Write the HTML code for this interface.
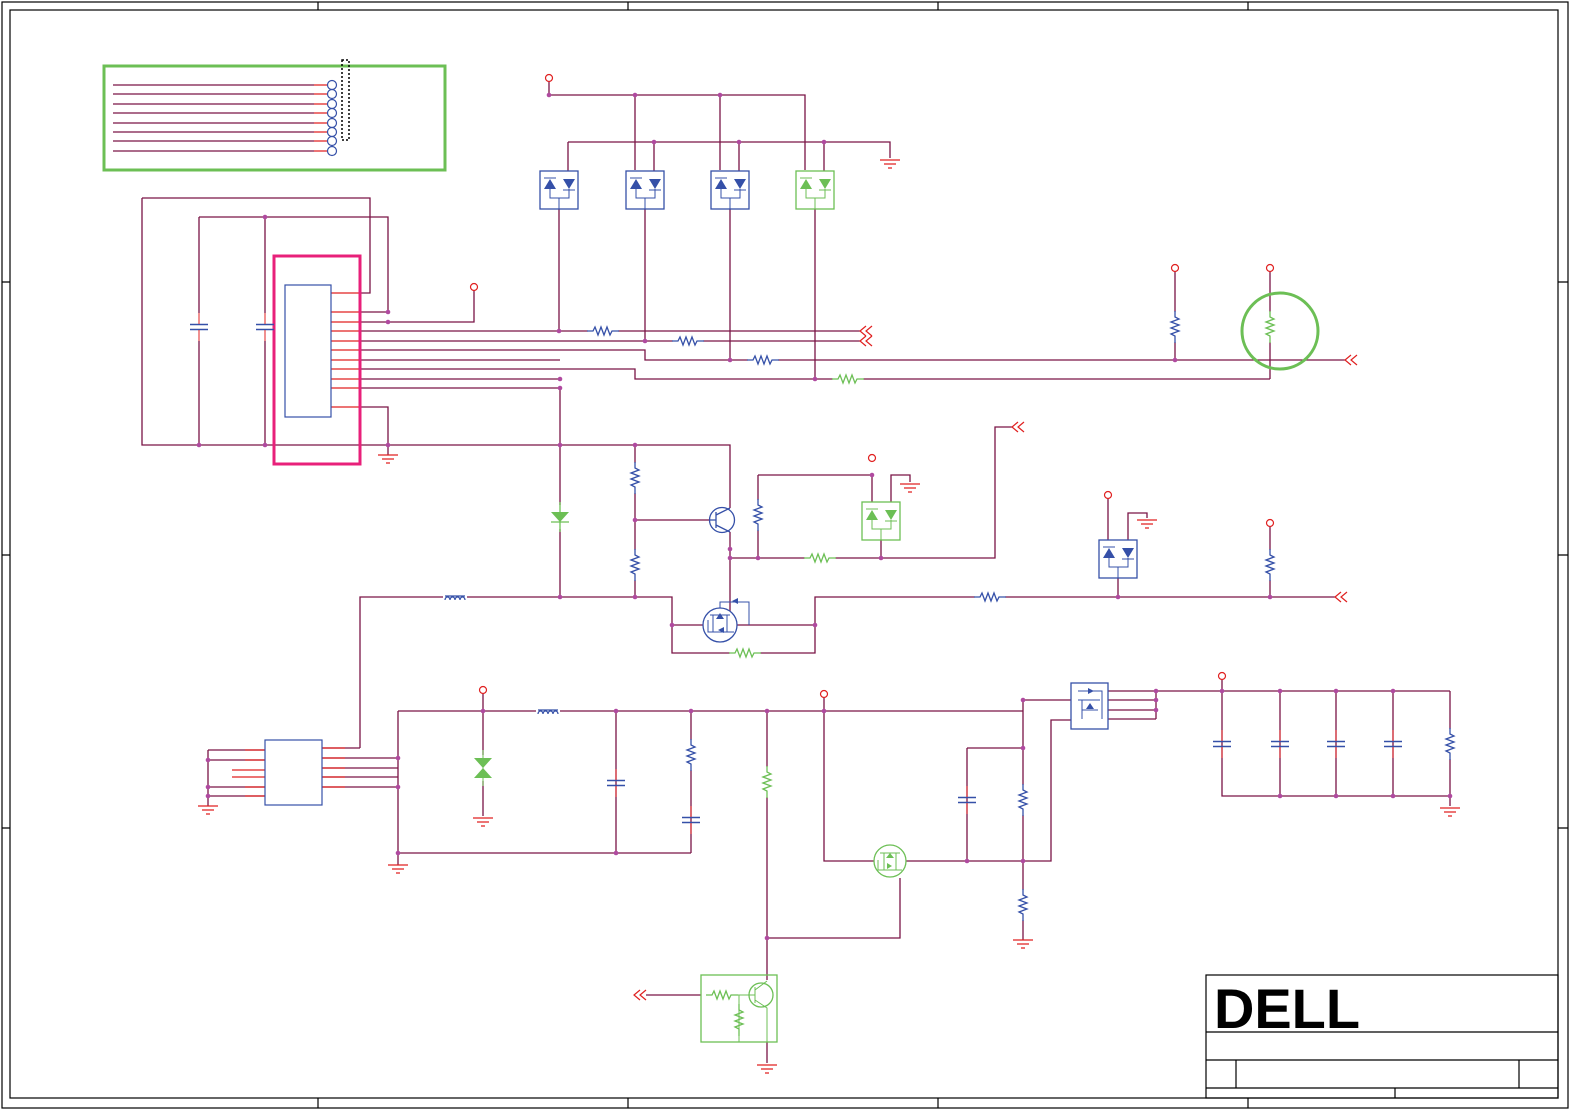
<!DOCTYPE html>
<html><head><meta charset="utf-8"><style>html,body{margin:0;padding:0;background:#fff}svg{display:block}</style></head><body>
<svg width="1572" height="1112" viewBox="0 0 1572 1112" xmlns="http://www.w3.org/2000/svg">
<defs>
<g id="rv" fill="none"><path d="M0,-16V-10l4,2-8,3 8,3-8,3 8,3-8,3 4,2V16" stroke="#3550a8" stroke-width="1.3"/></g>
<g id="rvg" fill="none"><path d="M0,-16V-10l4,2-8,3 8,3-8,3 8,3-8,3 4,2V16" stroke="#6cbf55" stroke-width="1.3"/></g>
<g id="rh" fill="none"><path d="M-16,0H-10l2,-4 3,8 3,-8 3,8 3,-8 3,8 2,-4H16" stroke="#3550a8" stroke-width="1.3"/></g>
<g id="rhg" fill="none"><path d="M-16,0H-10l2,-4 3,8 3,-8 3,8 3,-8 3,8 2,-4H16" stroke="#6cbf55" stroke-width="1.3"/></g>
<g id="cv" stroke="#3550a8" stroke-width="1.5"><path d="M-9,-2.5H9M-9,2.5H9"/><path d="M0,-14V-3M0,3V14" stroke="#e02020" stroke-width="1"/></g>
<g id="gnd" stroke="#e02020" stroke-width="1.2"><path d="M-10,0H10M-6,4H6M-2,8H2"/></g>
<circle id="pc" r="3.5" fill="#fff" stroke="#e02020" stroke-width="1.2"/>
<circle id="dt" r="2.3" fill="#b04aa0"/>
<g id="db"><rect x="0" y="0" width="38" height="38" fill="none" stroke="#3550a8" stroke-width="1.3"/>
<path d="M4,18l6,-10 6,10z M23,8h12l-6,10z" fill="#3550a8"/><path d="M4,7h12M23,19h12M10,18v9h19v-9M19,27v11" stroke="#3550a8" fill="none"/></g>
<g id="dbg"><rect x="0" y="0" width="38" height="38" fill="none" stroke="#6cbf55" stroke-width="1.3"/>
<path d="M4,18l6,-10 6,10z M23,8h12l-6,10z" fill="#6cbf55"/><path d="M4,7h12M23,19h12M10,18v9h19v-9M19,27v11" stroke="#6cbf55" fill="none"/></g>
<g id="arr" fill="none" stroke="#e02020" stroke-width="1.2"><path d="M0,-5l-6,5 6,5M6,-5l-6,5 6,5"/></g>
<g id="ind" fill="none" stroke="#3550a8" stroke-width="1.3"><path d="M-10,0a2.5,3 0 0 1 5,0a2.5,3 0 0 1 5,0a2.5,3 0 0 1 5,0a2.5,3 0 0 1 5,0M-10,-4H10"/></g>
</defs>
<g fill="none" stroke="#000" stroke-width="1.2">
<rect x="2" y="2" width="1566" height="1106"/><rect x="10" y="10" width="1548" height="1088"/>
<path d="M318,2V10M628,2V10M938,2V10M1248,2V10M318,1098V1108M628,1098V1108M938,1098V1108M1248,1098V1108M2,282H10M2,555H10M2,828H10M1558,282H1568M1558,555H1568M1558,828H1568"/>
</g>
<rect x="104" y="66" width="341" height="104" fill="none" stroke="#6cbf55" stroke-width="3"/>
<g stroke="#7a1446" stroke-width="1.2" fill="none">
<path d="M113,85H314M113,94H314M113,104H314M113,113H314M113,123H314M113,132H314M113,141H314M113,151H314"/>
</g>
<g stroke="#e02020" stroke-width="1.2"><path d="M314,85H328M314,94H328M314,104H328M314,113H328M314,123H328M314,132H328M314,141H328M314,151H328"/></g>
<g fill="#fff" stroke="#3550a8" stroke-width="1.2">
<circle cx="332" cy="85" r="4.5"/><circle cx="332" cy="94" r="4.5"/><circle cx="332" cy="104" r="4.5"/><circle cx="332" cy="113" r="4.5"/><circle cx="332" cy="123" r="4.5"/><circle cx="332" cy="132" r="4.5"/><circle cx="332" cy="141" r="4.5"/><circle cx="332" cy="151" r="4.5"/></g>
<rect x="342" y="60" width="7" height="80" fill="none" stroke="#000" stroke-width="1.5" stroke-dasharray="2 2"/>

<!-- wires -->
<g stroke="#7a1446" stroke-width="1.3" fill="none">
<path d="M142,198H370V293H360M142,198V445H730V508"/>
<path d="M199,217H388V312H360M199,217V313M199,341V445M265,217V313M265,341V445"/>
<path d="M360,322H474V291M360,331H860M360,341H860M360,350H645V360H1345M360,360H560M360,369H635V379H1270M360,379H560M360,388H560M360,407H388V455"/>
<path d="M549,82V95H805V170M635,95V170M720,95V170M568,142H890V158M568,142V171M654,142V171M739,142V171M824,142V171"/>
<path d="M559,209V331M645,209V341M730,209V360M815,209V379"/>
<path d="M1175,272V360M1270,272V379"/>
<path d="M560,388V597M635,445V597M635,520H710M730,532V625M758,475H872V502M758,475V558H995V427H1012M730,558H758M891,502V475H910V482M881,540V558"/>
<path d="M360,748V597H672V653H815V597H1335M672,625H704M736,625H815M1108,497V540M1128,540V513H1147V518M1118,578V597M1270,527V597"/>
<path d="M322,748H360M322,758H398M322,768H398M322,777H398M322,787H398M398,711V865M398,711H1023M398,853H691"/>
<path d="M483,694V816M616,711V853M691,711V853M767,711V980M767,938H900V878M824,698V861H874M906,861H1051V720H1072M967,748H1023M967,748V861M1023,700V940M1023,700H1072"/>
<path d="M1108,691H1450M1108,700H1156M1108,710H1156M1108,719H1156M1156,691V719M1222,680V796H1450M1280,691V796M1336,691V796M1393,691V796M1450,691V806"/>
<path d="M208,750H265M208,760H265M208,787H265M208,796H265M208,750V806M646,995H701M767,1042V1063"/>
</g>
<!-- pins red -->
<g stroke="#e02020" stroke-width="1.2">
<path d="M331,293H360M331,312H360M331,322H360M331,331H360M331,341H360M331,350H360M331,360H360M331,369H360M331,379H360M331,388H360M331,407H360"/>
<path d="M232,770H265M232,777H265M322,748H345M322,758H345M322,768H345M322,777H345M322,787H345M265,750H245M265,760H245M265,787H245M265,796H245"/>
</g>
<!-- IC -->
<rect x="274" y="256" width="86" height="208" fill="none" stroke="#e8207a" stroke-width="3"/>
<rect x="285" y="285" width="46" height="132" fill="#fff" stroke="#3550a8" stroke-width="1.2"/>
<rect x="265" y="740" width="57" height="65" fill="#fff" stroke="#3550a8" stroke-width="1.2"/>
<!-- caps -->
<use href="#cv" x="199" y="327"/><use href="#cv" x="265" y="327"/>
<use href="#cv" x="616" y="783"/><use href="#cv" x="691" y="820"/><use href="#cv" x="967" y="800"/>
<use href="#cv" x="1222" y="744"/><use href="#cv" x="1280" y="744"/><use href="#cv" x="1336" y="744"/><use href="#cv" x="1393" y="744"/>
<!-- resistors (white backing) -->
<g stroke="#fff" stroke-width="4"><path d="M588,331H618M673,341H703M748,360H778M833,379H863M1175,312V342M1270,312V342M635,463V493M635,550V580M758,500V530M805,558H835M975,597H1005M730,653H760M691,740V770M767,767V797M1023,785V815M1023,890V920M1450,729V759M1270,550V580"/></g>
<use href="#rh" x="603" y="331"/><use href="#rh" x="688" y="341"/><use href="#rh" x="763" y="360"/><use href="#rhg" x="848" y="379"/>
<use href="#rv" x="1175" y="327"/><use href="#rvg" x="1270" y="327"/>
<use href="#rv" x="635" y="478"/><use href="#rv" x="635" y="565"/><use href="#rv" x="758" y="515"/><use href="#rhg" x="820" y="558"/>
<use href="#rh" x="990" y="597"/><use href="#rhg" x="745" y="653"/><use href="#rv" x="1270" y="565"/>
<use href="#rv" x="691" y="755"/><use href="#rvg" x="767" y="782"/><use href="#rv" x="1023" y="800"/><use href="#rv" x="1023" y="905"/><use href="#rv" x="1450" y="744"/>
<circle cx="1280" cy="331" r="38" fill="none" stroke="#6cbf55" stroke-width="3"/>
<!-- diode boxes -->
<rect x="540" y="171" width="38" height="38" fill="#fff"/><use href="#db" x="540" y="171"/>
<rect x="626" y="171" width="38" height="38" fill="#fff"/><use href="#db" x="626" y="171"/>
<rect x="711" y="171" width="38" height="38" fill="#fff"/><use href="#db" x="711" y="171"/>
<rect x="796" y="171" width="38" height="38" fill="#fff"/><use href="#dbg" x="796" y="171"/>
<rect x="862" y="502" width="38" height="38" fill="#fff"/><use href="#dbg" x="862" y="502"/>
<rect x="1099" y="540" width="38" height="38" fill="#fff"/><use href="#db" x="1099" y="540"/>
<!-- green diode -->
<rect x="548" y="505" width="24" height="24" fill="#fff"/>
<path d="M551,512h18l-9,10z" fill="#6cbf55"/><path d="M551,522h18M560,502V532" stroke="#6cbf55" stroke-width="1.3"/>
<!-- zener -->
<rect x="470" y="755" width="26" height="26" fill="#fff"/>
<path d="M474,758h18l-9,10zM474,778h18l-9,-10z" fill="#6cbf55"/><path d="M483,750V786" stroke="#6cbf55"/>
<!-- inductors -->
<rect x="443" y="590" width="24" height="10" fill="#fff"/><use href="#ind" x="455" y="600"/>
<rect x="536" y="704" width="24" height="10" fill="#fff"/><use href="#ind" x="548" y="714"/>
<!-- transistor -->
<circle cx="722" cy="520" r="12.5" fill="#fff" stroke="#3550a8" stroke-width="1.3"/>
<path d="M716,512V528M710,520H716M716,515L730,508M716,525L730,532" stroke="#3550a8" stroke-width="1.3" fill="none"/>
<!-- mosfets -->
<circle cx="720" cy="625" r="17" fill="#fff" stroke="#3550a8" stroke-width="1.3"/>
<path d="M710,615H730M708,620V632H734M720,608V602H749V625M713,615V632M727,615V632" stroke="#3550a8" fill="none"/>
<path d="M716,619l4,-6 4,6zM724,633l-6,-3 6,-3z M738,604l-6,-3 6,-3z" fill="#3550a8"/>
<circle cx="890" cy="861" r="16" fill="#fff" stroke="#6cbf55" stroke-width="1.3"/>
<path d="M880,853H900M878,860V870H902M884,853V870M896,853V870" stroke="#6cbf55" fill="none"/>
<path d="M886,858l4,-5 4,5zM892,866l-5,3 0,-6z" fill="#6cbf55"/>
<rect x="1071" y="683" width="37" height="46" fill="#fff" stroke="#3550a8" stroke-width="1.3"/>
<path d="M1078,691H1102V719M1078,700H1100M1082,710H1098M1082,700V719" stroke="#3550a8" fill="none"/>
<path d="M1086,709l4,-6 4,6zM1094,691l-6,-3 0,6z" fill="#3550a8"/>
<!-- green transistor box -->
<rect x="701" y="975" width="76" height="67" fill="none" stroke="#6cbf55" stroke-width="1.3"/>
<use href="#rhg" x="722" y="995"/><path d="M738,995H748M739,995V1042" stroke="#6cbf55"/>
<use href="#rvg" x="739" y="1020"/>
<circle cx="761" cy="995" r="12" fill="#fff" stroke="#6cbf55" stroke-width="1.3"/>
<path d="M755,987V1003M748,995H755M755,990L767,981M755,1000L767,1008V1042" stroke="#6cbf55" fill="none"/>
<!-- power pins -->
<use href="#pc" x="549" y="78"/><use href="#pc" x="474" y="287"/><use href="#pc" x="1175" y="268"/><use href="#pc" x="1270" y="268"/>
<use href="#pc" x="872" y="458"/><use href="#pc" x="1108" y="495"/><use href="#pc" x="1270" y="523"/><use href="#pc" x="483" y="690"/>
<use href="#pc" x="824" y="694"/><use href="#pc" x="1222" y="676"/>
<!-- grounds -->
<use href="#gnd" x="890" y="160"/><use href="#gnd" x="388" y="455"/><use href="#gnd" x="910" y="484"/><use href="#gnd" x="1147" y="520"/>
<use href="#gnd" x="208" y="806"/><use href="#gnd" x="483" y="818"/><use href="#gnd" x="398" y="865"/><use href="#gnd" x="1023" y="940"/>
<use href="#gnd" x="1450" y="808"/><use href="#gnd" x="767" y="1065"/>
<!-- arrows -->
<use href="#arr" x="866" y="331"/><use href="#arr" x="866" y="341"/><use href="#arr" x="1351" y="360"/><use href="#arr" x="1018" y="427"/>
<use href="#arr" x="1341" y="597"/><use href="#arr" x="640" y="995"/>
<!-- dots -->
<g>
<use href="#dt" x="265" y="217"/><use href="#dt" x="388" y="312"/><use href="#dt" x="388" y="322"/><use href="#dt" x="199" y="445"/><use href="#dt" x="265" y="445"/><use href="#dt" x="388" y="445"/>
<use href="#dt" x="549" y="95"/><use href="#dt" x="635" y="95"/><use href="#dt" x="720" y="95"/><use href="#dt" x="654" y="142"/><use href="#dt" x="739" y="142"/><use href="#dt" x="824" y="142"/>
<use href="#dt" x="559" y="331"/><use href="#dt" x="645" y="341"/><use href="#dt" x="730" y="360"/><use href="#dt" x="815" y="379"/><use href="#dt" x="1175" y="360"/>
<use href="#dt" x="560" y="379"/><use href="#dt" x="560" y="388"/><use href="#dt" x="560" y="445"/><use href="#dt" x="635" y="445"/><use href="#dt" x="635" y="520"/>
<use href="#dt" x="560" y="597"/><use href="#dt" x="635" y="597"/><use href="#dt" x="730" y="549"/><use href="#dt" x="730" y="558"/><use href="#dt" x="758" y="558"/><use href="#dt" x="881" y="558"/><use href="#dt" x="872" y="475"/>
<use href="#dt" x="672" y="625"/><use href="#dt" x="815" y="625"/><use href="#dt" x="1118" y="597"/><use href="#dt" x="1270" y="597"/>
<use href="#dt" x="208" y="760"/><use href="#dt" x="208" y="787"/><use href="#dt" x="208" y="796"/><use href="#dt" x="398" y="758"/><use href="#dt" x="398" y="787"/><use href="#dt" x="398" y="853"/>
<use href="#dt" x="483" y="711"/><use href="#dt" x="616" y="711"/><use href="#dt" x="691" y="711"/><use href="#dt" x="767" y="711"/><use href="#dt" x="824" y="711"/><use href="#dt" x="616" y="853"/>
<use href="#dt" x="767" y="938"/><use href="#dt" x="967" y="861"/><use href="#dt" x="1023" y="861"/><use href="#dt" x="1023" y="748"/><use href="#dt" x="1023" y="700"/>
<use href="#dt" x="1156" y="691"/><use href="#dt" x="1156" y="700"/><use href="#dt" x="1156" y="710"/><use href="#dt" x="1222" y="691"/><use href="#dt" x="1280" y="691"/><use href="#dt" x="1336" y="691"/><use href="#dt" x="1393" y="691"/>
<use href="#dt" x="1280" y="796"/><use href="#dt" x="1336" y="796"/><use href="#dt" x="1393" y="796"/><use href="#dt" x="1450" y="796"/>
</g>
<!-- title block -->
<g fill="none" stroke="#000" stroke-width="1.2">
<rect x="1206" y="975" width="352" height="123"/>
<path d="M1206,1032H1558M1206,1060H1558M1206,1088H1558M1236,1060V1088M1519,1060V1088M1395,1088V1098"/>
</g>
<text x="1214" y="1028" font-family="Liberation Sans, sans-serif" font-weight="bold" font-size="56" fill="#000" textLength="146" lengthAdjust="spacingAndGlyphs">DELL</text>
</svg>
</body></html>
